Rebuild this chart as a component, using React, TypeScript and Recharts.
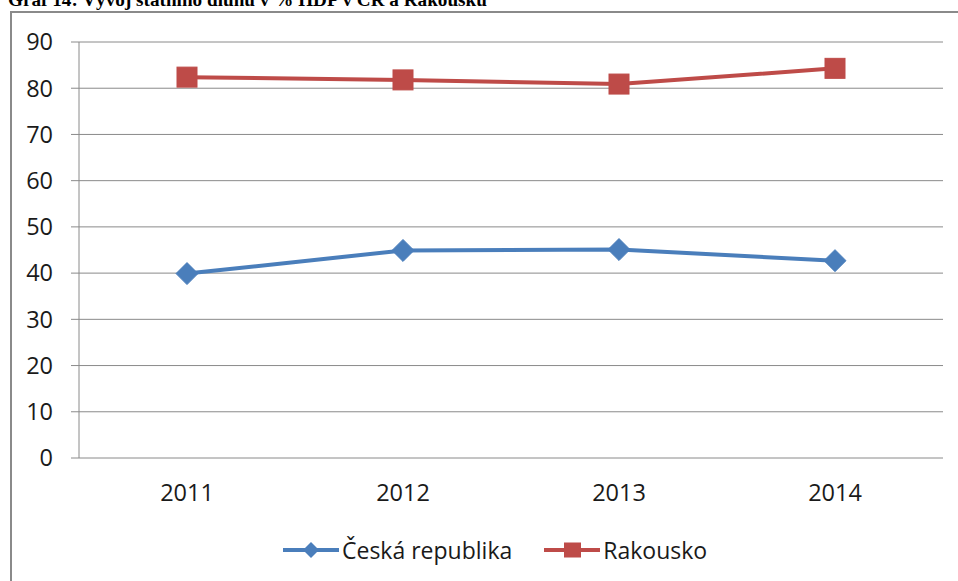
import React from 'react';
import { LineChart, Line, XAxis, YAxis, CartesianGrid, Legend } from 'recharts';

const title = 'Graf 14: Vývoj státního dluhu v % HDP v ČR a Rakousku';
const years = ['2011', '2012', '2013', '2014'];
const ceskaRepublika = [39.9, 44.9, 45.1, 42.7];
const rakousko = [82.4, 81.8, 80.9, 84.3];
const yTicks = [0, 10, 20, 30, 40, 50, 60, 70, 80, 90];
const boundaryTicks = [0, 1, 2, 3, 4];
const seriesNames = ['Česká republika', 'Rakousko'];
const seriesKeys = ['cz', 'at'];

const BLUE = '#4a7ebb';
const RED = '#be4b48';
const GRAY = '#8a8a8a';
const FONT = '"Open Sans", sans-serif';

const data = years.map((year, i) => ({
  year,
  pos: i + 0.5,
  cz: ceskaRepublika[i],
  at: rakousko[i],
}));

const Diamond = (props: any) => {
  const { cx, cy } = props;
  if (cx == null || cy == null) return null;
  const r = 11;
  return (
    <polygon
      points={`${cx},${cy - r} ${cx + r},${cy} ${cx},${cy + r} ${cx - r},${cy}`}
      fill={BLUE}
      stroke={BLUE}
      strokeWidth={1}
    />
  );
};

const Square = (props: any) => {
  const { cx, cy } = props;
  if (cx == null || cy == null) return null;
  const s = 20;
  return <rect x={cx - s / 2} y={cy - s / 2} width={s} height={s} fill={RED} stroke={RED} strokeWidth={1} />;
};

const LegendContent = (props: any) => {
  const payload = [...(props.payload || [])].sort(
    (a: any, b: any) => seriesKeys.indexOf(a.dataKey) - seriesKeys.indexOf(b.dataKey)
  );
  return (
    <div style={{ display: 'flex', alignItems: 'center', fontFamily: FONT, fontSize: 23, color: '#1a1a1a' }}>
      {payload.map((entry: any, i: number) => {
        const isBlue = entry.dataKey === 'cz';
        const color = isBlue ? BLUE : RED;
        return (
          <div key={i} style={{ display: 'flex', alignItems: 'center', marginRight: i === 0 ? 32 : 0 }}>
            <svg width={56} height={24} style={{ display: 'block' }}>
              <line x1={0} y1={12} x2={56} y2={12} stroke={color} strokeWidth={4} />
              {isBlue ? (
                <polygon points="28,4 36,12 28,20 20,12" fill={color} />
              ) : (
                <rect x={20} y={4.5} width={17} height={15} fill={color} />
              )}
            </svg>
            <span style={{ marginLeft: 3, lineHeight: '24px' }}>{entry.value}</span>
          </div>
        );
      })}
    </div>
  );
};

export default function App() {
  return (
    <div style={{ position: 'absolute', left: 0, top: 0, width: 958, height: 581, overflow: 'hidden', background: '#fff' }}>
      <div
        style={{
          position: 'absolute',
          left: 10,
          top: 11,
          width: 1000,
          height: 700,
          border: `2px solid ${GRAY}`,
          boxSizing: 'border-box',
        }}
      />
      <svg width={958} height={20} style={{ position: 'absolute', left: 0, top: 0 }}>
        <text x={8} y={6} fontFamily='"Liberation Serif", serif' fontWeight="bold" fontSize={19.2} fill="#000">
          {title}
        </text>
      </svg>
      <div style={{ position: 'absolute', left: 0, top: 0 }}>
        <LineChart width={958} height={581} data={data} margin={{ top: 42, right: 15, left: 0, bottom: 83 }}>
          <CartesianGrid vertical={false} stroke={GRAY} strokeWidth={1} />
          <XAxis
            xAxisId="num"
            type="number"
            dataKey="pos"
            domain={[0, 4]}
            allowDataOverflow
            ticks={boundaryTicks}
            tick={false}
            tickLine={{ stroke: GRAY, strokeWidth: 1 }}
            tickSize={8}
            axisLine={{ stroke: GRAY, strokeWidth: 1 }}
            height={0}
          />
          <XAxis
            xAxisId="cat"
            dataKey="year"
            scale="band"
            tickLine={false}
            axisLine={false}
            tickSize={0}
            tickMargin={26}
            height={40}
            interval={0}
            tick={{ fontFamily: FONT, fontSize: 23.5, fill: '#1a1a1a' }}
          />
          <YAxis
            width={79}
            domain={[0, 90]}
            ticks={yTicks}
            interval={0}
            tickSize={8}
            tickMargin={18}
            tickLine={{ stroke: GRAY, strokeWidth: 1 }}
            axisLine={{ stroke: GRAY, strokeWidth: 1 }}
            tick={{ fontFamily: FONT, fontSize: 23.5, fill: '#1a1a1a' }}
          />
          <Legend
            layout="horizontal"
            verticalAlign="middle"
            align="center"
            content={<LegendContent />}
            wrapperStyle={{ left: 283, top: 538, width: 520, height: 24 }}
          />
          <Line
            xAxisId="num"
            type="linear"
            dataKey="cz"
            name={seriesNames[0]}
            stroke={BLUE}
            strokeWidth={4}
            dot={<Diamond />}
            activeDot={false}
            isAnimationActive={false}
          />
          <Line
            xAxisId="num"
            type="linear"
            dataKey="at"
            name={seriesNames[1]}
            stroke={RED}
            strokeWidth={4}
            dot={<Square />}
            activeDot={false}
            isAnimationActive={false}
          />
        </LineChart>
      </div>
    </div>
  );
}
